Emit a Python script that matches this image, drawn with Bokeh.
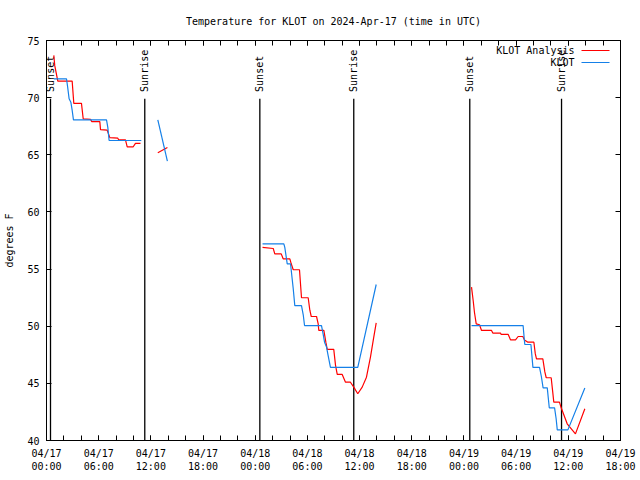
import numpy as np
import pandas as pd
from bokeh.plotting import figure
from bokeh.models import (Range1d, FixedTicker, DatetimeTickFormatter, DatetimeAxis, LinearAxis,
                          CustomJSTickFormatter, Label, BoxAnnotation)
from bokeh.embed import file_html
from bokeh.resources import INLINE
from bokeh.core.properties import value

BASE = pd.Timestamp("2024-04-17 00:00")
SPAN_HOURS = 66
FONT = "DejaVu Sans Mono"

# ---- data: hours since 2024-04-17 00:00 UTC, temperature in F ----
# KLOT Analysis (red)
analysis_h1 = [0.84, 0.95, 1.30, 2.95, 3.14, 4.02, 4.22, 5.06, 5.21, 6.13, 6.21, 6.98, 7.28,
               8.20, 8.31, 9.08, 9.28, 9.97, 10.23, 10.81]
analysis_t1 = [73.7, 72.8, 71.45, 71.45, 69.5, 69.5, 68.15, 68.1, 67.9, 67.9, 67.2, 67.15, 66.5,
               66.45, 66.3, 66.3, 65.7, 65.7, 66.0, 66.0]
analysis_h2 = [12.8, 13.9]
analysis_t2 = [65.17, 65.64]
analysis_h3 = [24.84, 26.07, 26.25, 26.99, 27.21, 27.98, 28.14, 28.37, 29.09, 29.32, 30.09, 30.28,
               30.44, 31.05, 31.24, 31.31, 31.89, 32.12, 32.28, 33.03, 33.23, 33.43, 34.0, 34.38,
               34.95, 35.33, 35.79, 36.3, 36.79, 37.25, 37.63, 37.91]
analysis_t3 = [56.9, 56.8, 56.33, 56.33, 55.9, 55.9, 55.46, 54.94, 54.94, 52.49, 52.49, 51.4,
               50.85, 50.85, 50.2, 49.63, 49.63, 48.6, 47.97, 47.97, 46.6, 45.78, 45.78, 45.1,
               45.1, 44.67, 44.09, 44.67, 45.54, 47.3, 49.04, 50.3]
analysis_h4 = [48.87, 49.06, 49.21, 49.41, 49.79, 50.02, 51.17, 51.32, 52.2, 52.28, 53.09, 53.35,
               53.93, 54.23, 54.77, 54.96, 55.35, 56.04, 56.2, 56.34, 57.07, 57.3, 57.46, 58.03,
               58.2, 58.33, 58.98, 59.18, 59.87, 60.82, 61.9]
analysis_t4 = [53.42, 52.25, 51.2, 50.21, 50.13, 49.63, 49.63, 49.4, 49.4, 49.28, 49.28, 48.81,
               48.81, 49.1, 49.1, 48.8, 48.6, 48.6, 47.6, 47.15, 47.15, 46.0, 45.49, 45.49,
               44.3, 43.36, 43.36, 42.86, 41.46, 40.58, 42.78]

# KLOT observations (blue)
obs_h1 = [0.84, 2.30, 2.42, 2.60, 2.80, 2.95, 3.10, 6.90, 7.05, 7.20, 10.90]
obs_t1 = [71.65, 71.65, 71.0, 69.9, 69.6, 68.9, 68.05, 68.05, 67.4, 66.25, 66.25]
obs_h2 = [12.8, 13.9]
obs_t2 = [68.06, 64.44]
obs_h3 = [24.84, 27.29, 27.4, 27.68, 28.06, 28.14, 28.37, 28.55, 29.32, 29.52, 29.67, 31.62,
          31.81, 31.97, 32.2, 32.39, 32.65, 35.79, 37.91]
obs_t3 = [57.21, 57.21, 56.9, 55.46, 55.46, 54.9, 53.28, 51.8, 51.8, 51.0, 50.06, 50.06,
          49.3, 48.6, 48.17, 47.4, 46.4, 46.4, 53.65]
obs_h4 = [48.87, 54.8, 54.95, 55.0, 55.7, 55.93, 56.69, 56.9, 57.1, 57.58, 57.7, 57.81, 58.42,
          58.6, 58.73, 59.95, 61.9]
obs_t4 = [50.06, 50.06, 48.75, 48.4, 48.4, 46.4, 46.4, 45.6, 44.6, 44.6, 43.7, 42.86, 42.86,
          41.9, 40.93, 40.93, 44.6]

sunset_h = [0.46, 24.53, 48.67]
sunrise_h = [11.30, 35.33, 59.22]

y_ticks = [40, 45, 50, 55, 60, 65, 70, 75]
x_major_step_h = 6
x_minor_step_h = 2

RED = "#ff0000"
BLUE = "#1580e8"


def ms(hours):
    base_ms = BASE.value / 1e6
    return [base_ms + h * 3600e3 for h in hours]


p = figure(width=640, height=480, x_axis_type="datetime", output_backend="svg",
           toolbar_location=None, min_border_left=46, min_border_right=20,
           min_border_top=40, min_border_bottom=40,
           x_range=Range1d(ms([0])[0], ms([SPAN_HOURS])[0]), y_range=Range1d(40, 75))

p.title.text = "Temperature for KLOT on 2024-Apr-17 (time in UTC)"
p.title.align = "center"
p.title.text_font = FONT
p.title.text_font_size = "10px"
p.title.text_font_style = "normal"
p.title.text_color = "black"
p.title.standoff = 27

p.xgrid.visible = False
p.ygrid.visible = False
p.outline_line_color = "black"
p.outline_line_width = 1
p.background_fill_color = "white"
p.border_fill_color = "white"

major = ms(list(range(0, SPAN_HOURS + 1, x_major_step_h)))
minor = ms(list(range(0, SPAN_HOURS + 1, x_minor_step_h)))
xticker = FixedTicker(ticks=major, minor_ticks=minor)
yticker = FixedTicker(ticks=y_ticks, minor_ticks=[])

fmt = "%m/%d\n%H:%M"
xfmt = DatetimeTickFormatter(microseconds=fmt, milliseconds=fmt, seconds=fmt, minsec=fmt,
                             minutes=fmt, hourmin=fmt, hours=fmt, days=fmt, months=fmt, years=fmt)


def style_axis(ax):
    ax.axis_line_color = "black"
    ax.major_tick_line_color = "black"
    ax.minor_tick_line_color = "black"
    ax.major_tick_in = 5
    ax.major_tick_out = 0
    ax.minor_tick_in = 5
    ax.minor_tick_out = 0
    ax.major_label_text_font = FONT
    ax.major_label_text_font_size = "10px"
    ax.major_label_text_color = "black"


xa = p.xaxis[0]
xa.ticker = xticker
xa.formatter = xfmt
style_axis(xa)
xa.major_label_standoff = 7

ya = p.yaxis[0]
ya.ticker = yticker
style_axis(ya)
ya.minor_tick_in = 0
ya.major_label_standoff = 7
ya.axis_label = "degrees F"
ya.axis_label_text_font = FONT
ya.axis_label_text_font_size = "10px"
ya.axis_label_text_font_style = "normal"
ya.axis_label_text_color = "black"
ya.axis_label_standoff = 9

empty = CustomJSTickFormatter(code="return ''")
top = DatetimeAxis(ticker=xticker, formatter=empty)
style_axis(top)
top.major_label_standoff = 0
p.add_layout(top, "above")
right = LinearAxis(ticker=yticker, formatter=empty)
style_axis(right)
right.minor_tick_in = 0
right.major_label_standoff = 0
p.add_layout(right, "right")

# sunrise / sunset markers
for hours, name in ((sunset_h, "Sunset"), (sunrise_h, "Sunrise")):
    xs = ms(hours)
    p.segment(x0=xs, y0=[40] * len(xs), x1=xs, y1=[69.9] * len(xs),
              line_color="black", line_width=1.3)
    p.text(x=xs, y=[70.5] * len(xs), text=[name] * len(xs), angle=np.pi / 2,
           text_align="left", text_baseline="middle", text_font=value(FONT),
           text_font_size="10px", text_color="black")

for h, t in ((analysis_h1, analysis_t1), (analysis_h2, analysis_t2),
             (analysis_h3, analysis_t3), (analysis_h4, analysis_t4)):
    p.line(ms(h), t, line_color=RED, line_width=1.2)

for h, t in ((obs_h1, obs_t1), (obs_h2, obs_t2), (obs_h3, obs_t3), (obs_h4, obs_t4)):
    p.line(ms(h), t, line_color=BLUE, line_width=1.2)

# legend (text left of line sample, gnuplot style)
for i, (lbl, col) in enumerate((("KLOT Analysis", RED), ("KLOT", BLUE))):
    yy = 390 - i * 12
    p.add_layout(Label(x=528, y=yy, x_units="screen", y_units="screen", text=lbl,
                       text_align="right", text_baseline="middle", text_font=FONT,
                       text_font_size="10px", text_color="black"))
    p.add_layout(BoxAnnotation(left=535, right=563, bottom=yy - 0.6, top=yy + 0.6,
                               left_units="screen", right_units="screen",
                               bottom_units="screen", top_units="screen",
                               fill_color=col, fill_alpha=1, line_alpha=0))

open("out.html", "w").write(file_html(p, INLINE))
